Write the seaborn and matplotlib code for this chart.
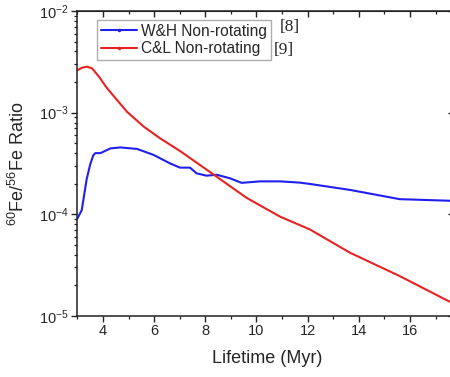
import numpy as np
import pandas as pd
import matplotlib
matplotlib.use('Agg')
import matplotlib.pyplot as plt
from matplotlib.lines import Line2D
from matplotlib.ticker import MultipleLocator
import seaborn as sns

# W&H non-rotating
wh_time = [3.0, 3.17, 3.36, 3.5, 3.62, 3.7, 3.9, 4.29, 4.68, 5.33, 5.98, 6.62,
           7.01, 7.4, 7.66, 8.05, 8.45, 8.97, 9.42, 10.14, 10.92, 11.7, 12.09,
           13.65, 15.6, 17.56]
wh_ratio = [9.1e-5, 1.1e-4, 2.2e-4, 3.1e-4, 3.8e-4, 4.0e-4, 4.0e-4, 4.45e-4,
            4.55e-4, 4.4e-4, 3.84e-4, 3.17e-4, 2.88e-4, 2.88e-4, 2.53e-4,
            2.4e-4, 2.45e-4, 2.26e-4, 2.04e-4, 2.11e-4, 2.11e-4, 2.05e-4,
            1.99e-4, 1.74e-4, 1.41e-4, 1.36e-4]

# C&L non-rotating
cl_time = [3.0, 3.2, 3.38, 3.57, 3.85, 4.16, 4.55, 4.94, 5.59, 6.23, 7.01,
           8.45, 9.62, 10.92, 12.09, 13.65, 15.6, 17.56]
cl_ratio = [2.62e-3, 2.78e-3, 2.83e-3, 2.73e-3, 2.25e-3, 1.74e-3, 1.33e-3,
            1.02e-3, 7.3e-4, 5.6e-4, 4.2e-4, 2.34e-4, 1.45e-4, 9.5e-5, 7.1e-5,
            4.2e-5, 2.47e-5, 1.38e-5]

labels = ['W&H Non-rotating', 'C&L Non-rotating']
refs = ['[8]', '[9]']
colors = ['#1f1fee', '#e82222']

sns.set_style('ticks')
plt.rcParams['font.family'] = ['Liberation Sans', 'DejaVu Sans']
plt.rcParams['mathtext.fontset'] = 'custom'
plt.rcParams['mathtext.rm'] = 'Liberation Sans'
plt.rcParams['mathtext.it'] = 'Liberation Sans:italic'
plt.rcParams['mathtext.bf'] = 'Liberation Sans:bold'

df = pd.concat([
    pd.DataFrame({'time': wh_time, 'ratio': wh_ratio, 'model': labels[0]}),
    pd.DataFrame({'time': cl_time, 'ratio': cl_ratio, 'model': labels[1]}),
])

fig = plt.figure(figsize=(4.5, 3.77), dpi=100)
ax = fig.add_axes([77.4 / 450, 1 - 316 / 377, (453.5 - 77.4) / 450, 305 / 377])

sns.lineplot(data=df, x='time', y='ratio', hue='model', palette=colors,
             linewidth=1.5, ax=ax, legend=False, sort=False)

ax.set_yscale('log')
ax.set_xlim(3, 3 + (453.5 - 77.4) / 25.58)
ax.set_ylim(1e-5, 1e-2)
ax.xaxis.set_major_locator(MultipleLocator(2))
ax.xaxis.set_minor_locator(MultipleLocator(1))

ax.set_xlabel('Lifetime (Myr)', fontsize=13)
ax.set_ylabel(r'$^{60}$Fe/$^{56}$Fe Ratio', fontsize=13)
ax.xaxis.set_label_coords(0.505, -0.112)
ax.yaxis.set_label_coords(-0.132, 0.5)

for s in ax.spines.values():
    s.set_linewidth(1.1)
    s.set_color('#222222')
    s.set_visible(True)

ax.tick_params(which='major', direction='out', length=4, width=1, labelsize=10.5,
               color='#222222', pad=2)
ax.tick_params(which='minor', direction='out', length=2.3, width=0.9,
               color='#222222')

top = ax.secondary_xaxis('top')
top.xaxis.set_major_locator(MultipleLocator(2))
top.xaxis.set_minor_locator(MultipleLocator(1))
top.tick_params(which='major', direction='in', length=4, width=1, labeltop=False,
                color='#222222')
top.tick_params(which='minor', direction='in', length=2.3, width=0.9,
                color='#222222')

right = ax.secondary_yaxis('right')
right.tick_params(which='major', direction='in', length=4.5, width=1,
                  labelright=False, color='#222222')
right.tick_params(which='minor', length=0)

handles = [Line2D([0], [0], color=c, lw=1.5, marker='.', markersize=3)
           for c in colors]
leg = ax.legend(handles, labels, loc='upper left',
                bbox_to_anchor=((97 - 77.4) / 376.1, (316 - 20) / 305),
                borderaxespad=0, fontsize=11.2, frameon=True, fancybox=False,
                handlelength=2.3, handletextpad=0.3, borderpad=0.25,
                labelspacing=0.15)
leg.get_frame().set_edgecolor('#999999')
leg.get_frame().set_linewidth(1.0)

serif = ['Liberation Serif', 'DejaVu Serif']
fig.text(280 / 450, 1 - 27 / 377, refs[0], family=serif,
         fontsize=12.5, ha='left', va='center')
fig.text(274 / 450, 1 - 50 / 377, refs[1], family=serif,
         fontsize=12.5, ha='left', va='center')

fig.savefig('out.png', dpi=100)
